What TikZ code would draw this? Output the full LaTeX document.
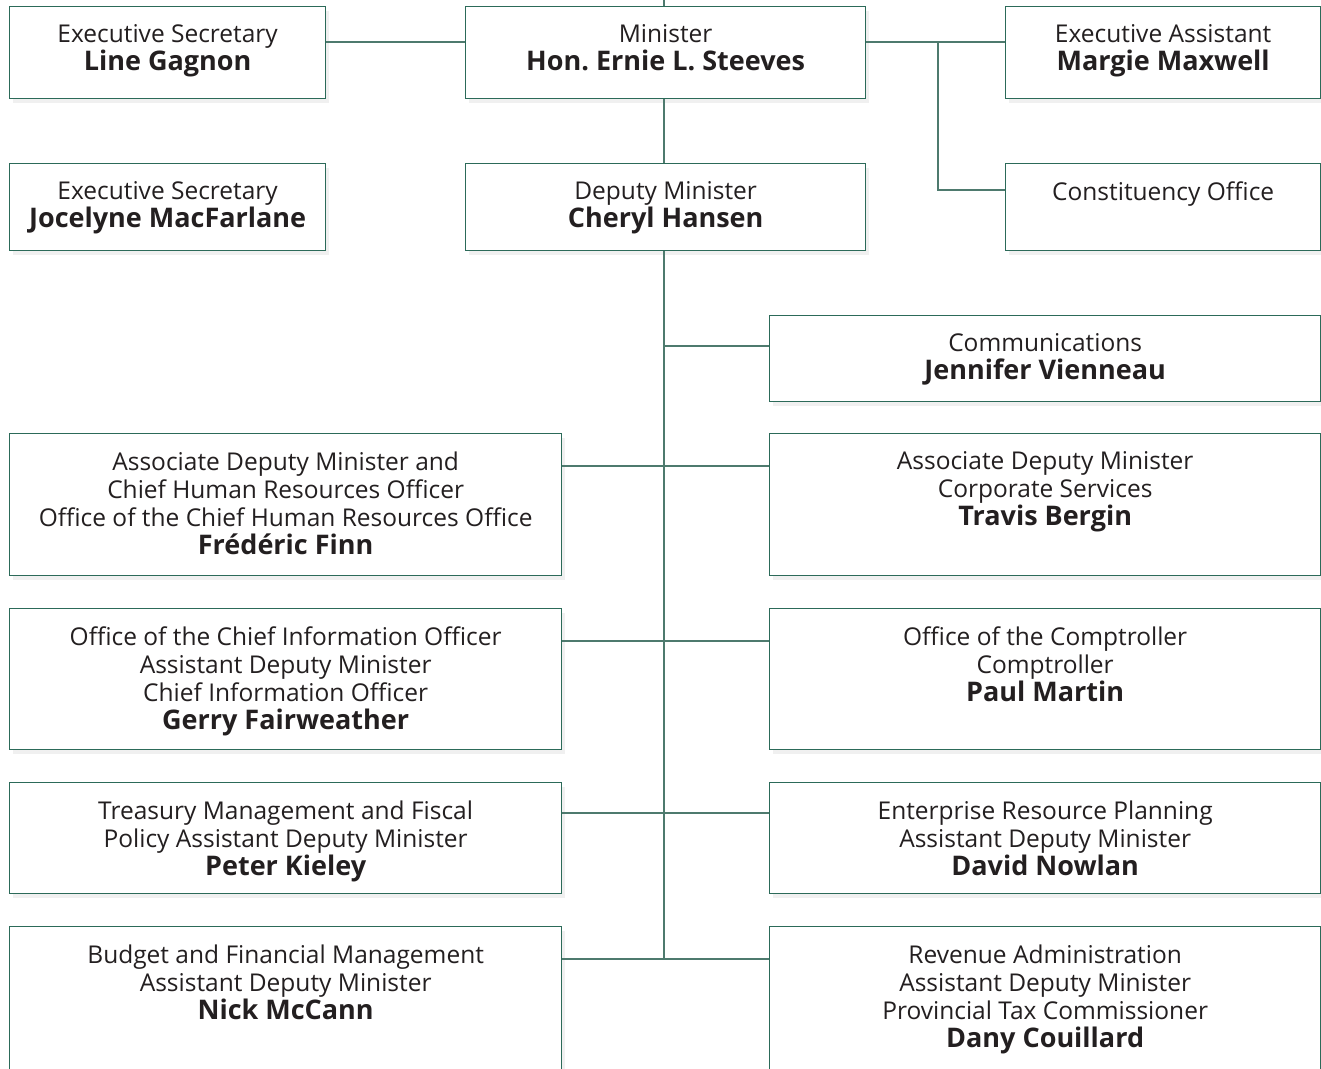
\documentclass[tikz,border=0pt]{standalone}
\usepackage{fontspec}
\setmainfont{Open Sans}
\usetikzlibrary{shadows}
\definecolor{boxline}{HTML}{2C6A59}
\definecolor{conn}{HTML}{4E7A6E}
\definecolor{txt}{HTML}{231F20}
\newcommand{\nm}[1]{{\fontsize{27}{28}\selectfont\bfseries #1}}
\tikzset{
  orgbox/.style={draw=boxline, line width=1.3pt, fill=white, rectangle, anchor=north west, inner sep=0,
    drop shadow={opacity=0.12, shadow xshift=3pt, shadow yshift=-4pt}},
  boxtext/.style={anchor=north, inner sep=0, align=center, text=txt, font=\fontsize{24.5}{28}\selectfont\frenchspacing},
  link/.style={draw=conn, line width=1.8pt}
}
\begin{document}
\begin{tikzpicture}[x=1pt,y=-1pt]
\useasboundingbox (0,0) rectangle (1321,1068);
\clip (0,0) rectangle (1321,1068);
% boxes
\newcommand{\orgbox}[6]{%
  \node[orgbox, minimum width=#4, minimum height=#5] (#1) at (#2,#3) {};
  \node[boxtext] (#1t) at ([yshift=-18.5pt]#1.north) {#6};}
\orgbox{es1}{9}{6}{316pt}{92pt}{Executive Secretary\\\nm{Line Gagnon}}
\orgbox{min}{465}{6}{400pt}{92pt}{Minister\\\nm{Hon. Ernie L. Steeves}}
\orgbox{ea}{1005}{6}{315pt}{92pt}{Executive Assistant\\\nm{Margie Maxwell}}
\orgbox{es2}{9}{163}{316pt}{87pt}{Executive Secretary\\\nm{Jocelyne MacFarlane}}
\orgbox{dm}{465}{163}{400pt}{87pt}{Deputy Minister\\\nm{Cheryl Hansen}}
\orgbox{co}{1005}{163}{315pt}{87pt}{Constituency Office}
\orgbox{com}{769}{315}{551pt}{86pt}{Communications\\\nm{Jennifer Vienneau}}
\orgbox{hr}{9}{433}{552pt}{142pt}{Associate Deputy Minister and\\Chief Human Resources Officer\\Office of the Chief Human Resources Office\\\nm{Frédéric Finn}}
\orgbox{cs}{769}{433}{551pt}{142pt}{Associate Deputy Minister\\Corporate Services\\\nm{Travis Bergin}}
\orgbox{cio}{9}{608}{552pt}{141pt}{Office of the Chief Information Officer\\Assistant Deputy Minister\\Chief Information Officer\\\nm{Gerry Fairweather}}
\orgbox{comp}{769}{608}{551pt}{141pt}{Office of the Comptroller\\Comptroller\\\nm{Paul Martin}}
\orgbox{tm}{9}{782}{552pt}{111pt}{Treasury Management and Fiscal\\Policy Assistant Deputy Minister\\\nm{Peter Kieley}}
\orgbox{erp}{769}{782}{551pt}{111pt}{Enterprise Resource Planning\\Assistant Deputy Minister\\\nm{David Nowlan}}
\orgbox{bfm}{9}{926}{552pt}{160pt}{Budget and Financial Management\\Assistant Deputy Minister\\\nm{Nick McCann}}
\orgbox{rev}{769}{926}{551pt}{160pt}{Revenue Administration\\Assistant Deputy Minister\\Provincial Tax Commissioner\\\nm{Dany Couillard}}
% connectors
\coordinate (top) at (664,0);
\coordinate (spineend) at (664,959);
\draw[link] (top) -- (top |- min.north);
\draw[link] (es1.east |- 0,42) -- (min.west |- 0,42);
\draw[link] (min.east |- 0,42) -- (ea.west |- 0,42);
\draw[link] (938,42) |- (co.west |- 0,190);
\draw[link] (top |- min.south) -- (top |- dm.north);
\draw[link] (top |- dm.south) -- (spineend);
\draw[link] (664,346) -- (com.west |- 0,346);
\draw[link] (hr.east |- 0,466) -- (cs.west |- 0,466);
\draw[link] (cio.east |- 0,641) -- (comp.west |- 0,641);
\draw[link] (tm.east |- 0,813) -- (erp.west |- 0,813);
\draw[link] (bfm.east |- 0,959) -- (rev.west |- 0,959);
\end{tikzpicture}
\end{document}
